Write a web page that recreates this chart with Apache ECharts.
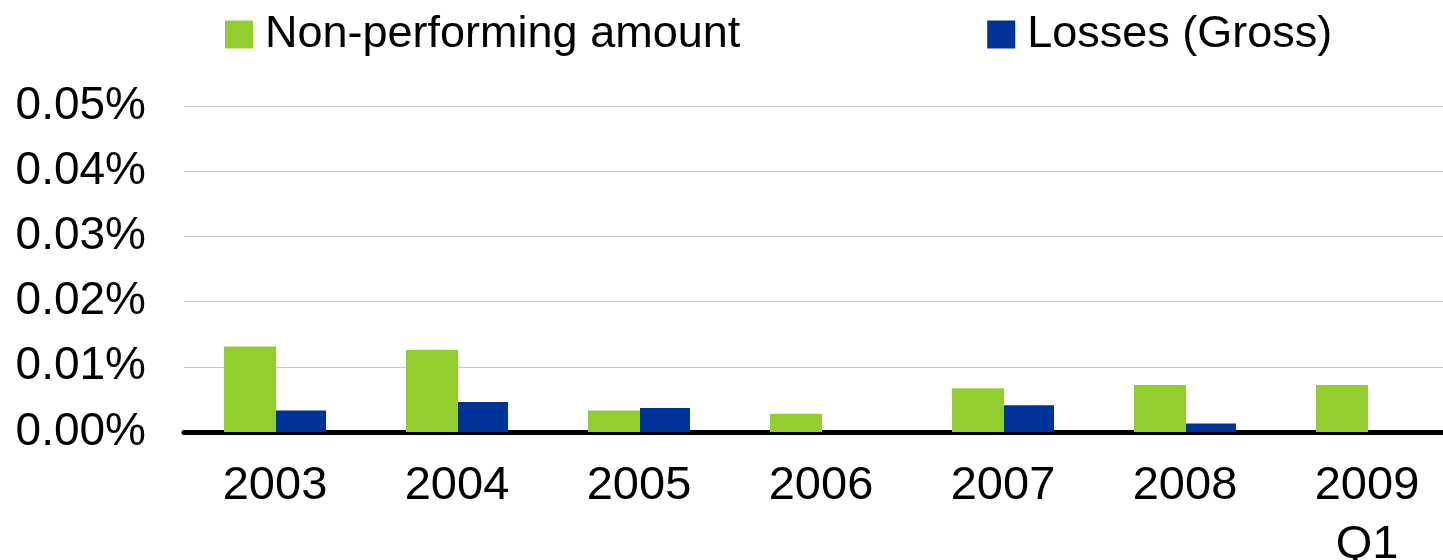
<!DOCTYPE html>
<html>
<head>
<meta charset="utf-8">
<script src="https://cdn.jsdelivr.net/npm/echarts@6/dist/echarts.min.js"></script>
<style>
  html, body { margin: 0; padding: 0; background: #fff; }
  #chart { width: 1443px; height: 560px; }
</style>
</head>
<body>
<div id="chart"></div>
<script>
var categories = ['2003', '2004', '2005', '2006', '2007', '2008', '2009\nQ1'];
var nonPerforming = [0.0131, 0.0126, 0.0033, 0.0028, 0.0067, 0.0072, 0.0072];
var losses = [0.0033, 0.0046, 0.0037, 0, 0.0041, 0.0013, 0];
var seriesNames = ['Non-performing amount', 'Losses (Gross)'];

var font = '"Liberation Sans", Arial, sans-serif';
var myChart = echarts.init(document.getElementById('chart'));

var option = {
    animation: false,
    textStyle: { fontFamily: font },
    legend: {
        left: 220,
        top: 7,
        itemWidth: 28,
        itemHeight: 28,
        itemGap: 247,
        icon: 'rect',
        textStyle: {
            color: '#000',
            fontSize: 45,
            fontFamily: font,
            padding: [0, 0, 0, 7]
        },
        data: seriesNames
    },
    grid: {
        left: 184,
        right: -15,
        top: 106,
        bottom: 128,
        outerBoundsMode: 'none'
    },
    xAxis: {
        type: 'category',
        data: categories,
        axisTick: { show: false },
        axisLine: {
            lineStyle: { color: '#000', width: 5, cap: 'round' }
        },
        axisLabel: {
            color: '#000',
            fontSize: 47,
            fontFamily: font,
            lineHeight: 59,
            margin: 25,
            interval: 0
        }
    },
    yAxis: {
        type: 'value',
        min: 0,
        max: 0.05,
        interval: 0.01,
        axisLine: { show: false },
        axisTick: { show: false },
        splitLine: {
            lineStyle: { color: '#c8c8c8', width: 1 }
        },
        axisLabel: {
            color: '#000',
            fontSize: 46,
            fontFamily: font,
            margin: 38,
            formatter: function (v) {
                return v.toFixed(2) + '%';
            }
        }
    },
    series: [
        {
            name: seriesNames[0],
            type: 'bar',
            data: nonPerforming,
            barWidth: 52,
            barGap: '0%',
            itemStyle: { color: '#93ce2f' }
        },
        {
            name: seriesNames[1],
            type: 'bar',
            data: losses,
            barWidth: 50,
            barGap: '0%',
            itemStyle: { color: '#003399' }
        }
    ]
};
myChart.setOption(option);
</script>
</body>
</html>
